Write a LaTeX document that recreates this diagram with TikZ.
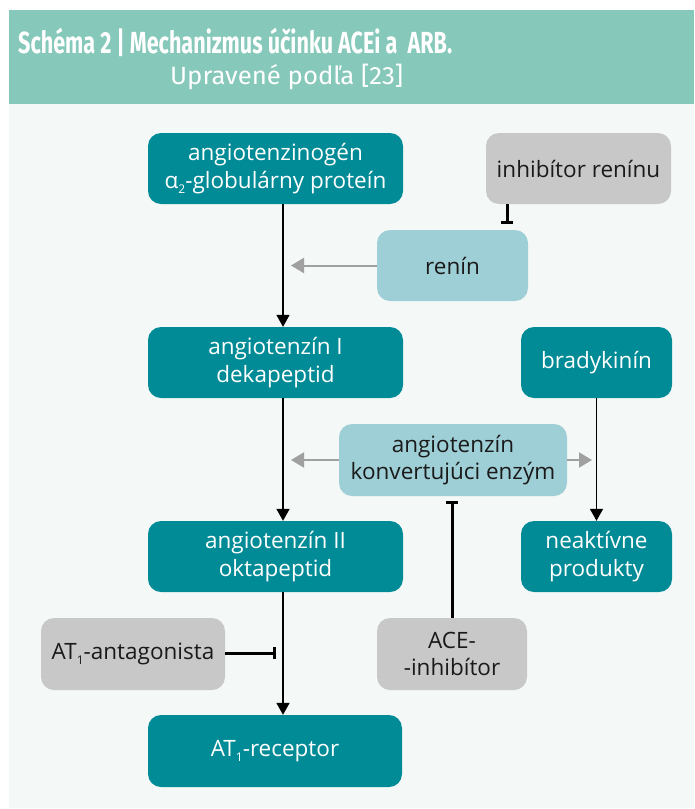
\documentclass[tikz,border=0pt]{standalone}
\usepackage{fontspec}
\usepackage{graphicx}
\setmainfont{Open Sans}
\newfontfamily\titlefont{Fira Sans}
\usetikzlibrary{arrows.meta}
\definecolor{tealbox}{HTML}{008B96}
\definecolor{lightbox}{HTML}{9FCFD6}
\definecolor{graybox}{HTML}{C8C8C8}
\definecolor{headbg}{HTML}{86C8BA}
\definecolor{panelbg}{HTML}{F4F8F7}
\definecolor{grayarrow}{HTML}{A0A0A0}
\definecolor{darktext}{HTML}{1A1A1A}
\newcommand{\lowidx}[1]{\raisebox{-0.45ex}{\fontsize{12}{12}\selectfont #1}}
\begin{document}
\begin{tikzpicture}[x=1pt,y=-1pt,
  box/.style={rounded corners=13pt, inner sep=0pt, align=center, minimum height=71pt,
    font=\fontsize{22.5}{27.5}\selectfont},
  tealnode/.style={box, fill=tealbox, text=white},
  lightnode/.style={box, fill=lightbox, text=darktext},
  graynode/.style={box, fill=graybox, text=darktext},
  flow/.style={draw=black, line width=1.6pt, -{Triangle[length=12pt,width=13pt]}},
  side/.style={draw=grayarrow, line width=2pt, -{Triangle[length=13pt,width=15pt]}},
  block/.style={draw=black, line width=3pt, -{Bar[width=12pt,line width=3pt]}},
  titletext/.style={anchor=base west, inner sep=0pt, text=white}
]
\useasboundingbox (0,0) rectangle (694,809);
% backgrounds
\fill[panelbg] (9,104) rectangle (694,808);
\fill[headbg] (9,10) rectangle (694,104);
\node[titletext] (title) at (18,53) {\resizebox{434pt}{\height}{\titlefont\bfseries\fontsize{30.5}{32}\selectfont Schéma 2 | Mechanizmus účinku ACEi a\ \ ARB.}};
\node[titletext] (subtitle) at (170,84.5) {\resizebox{233pt}{\height}{\titlefont\fontsize{25}{27}\selectfont Upravené podľa [23]}};

% nodes
\node[tealnode, minimum width=255pt] (ang) at (275.5,168.5) {angiotenzinogén\\α\lowidx{2}-globulárny proteín};
\node[graynode, minimum width=185pt] (inhR) at (578.5,168.5) {inhibítor renínu};
\node[lightnode, minimum width=151pt] (renin) at (452.5,265.5) {renín};
\node[tealnode, minimum width=255pt] (ang1) at (275.5,362.5) {angiotenzín I\\dekapeptid};
\node[tealnode, minimum width=151pt] (brady) at (596.5,362.5) {bradykinín};
\node[lightnode, minimum width=228pt, minimum height=72pt] (ace) at (453,460) {angiotenzín\\konvertujúci enzým};
\node[tealnode, minimum width=255pt] (ang2) at (275.5,556.5) {angiotenzín II\\oktapeptid};
\node[tealnode, minimum width=151pt] (neak) at (596.5,556.5) {neaktívne\\produkty};
\node[graynode, minimum width=184pt, minimum height=72pt] (at1a) at (133,654) {AT\lowidx{1}-antagonista};
\node[graynode, minimum width=150pt, minimum height=72pt] (acei) at (452,654) {ACE-\\-inhibítor};
\node[tealnode, minimum width=254pt, minimum height=72pt] (at1r) at (275,751) {AT\lowidx{1}-receptor};

% helper coordinates
\coordinate (mainx) at (283,0);
\coordinate (rtip) at (291,265.5);
\coordinate (acetipL) at (291,460);
\coordinate (acetipR) at (592,460);
\coordinate (inhx) at (507,0);
\coordinate (inhbar) at (507,224);
\coordinate (acebar) at (452,501);
\coordinate (at1bar) at (276,653);
\coordinate (at1y) at (0,653);

% connectors
\draw[flow] (ang.south -| mainx) -- (ang1.north -| mainx);
\draw[flow] (ang1.south -| mainx) -- (ang2.north -| mainx);
\draw[flow] (ang2.south -| mainx) -- (at1r.north -| mainx);
\draw[flow] (brady.south) -- (neak.north);
\draw[side] (renin.west) -- (rtip);
\draw[side] (ace.west) -- (acetipL);
\draw[side] (ace.east) -- (acetipR);
\draw[block] (inhR.south -| inhx) -- (inhbar);
\draw[block] (acei.north) -- (acebar);
\draw[block] (at1a.east |- at1y) -- (at1bar);
\end{tikzpicture}
\end{document}
